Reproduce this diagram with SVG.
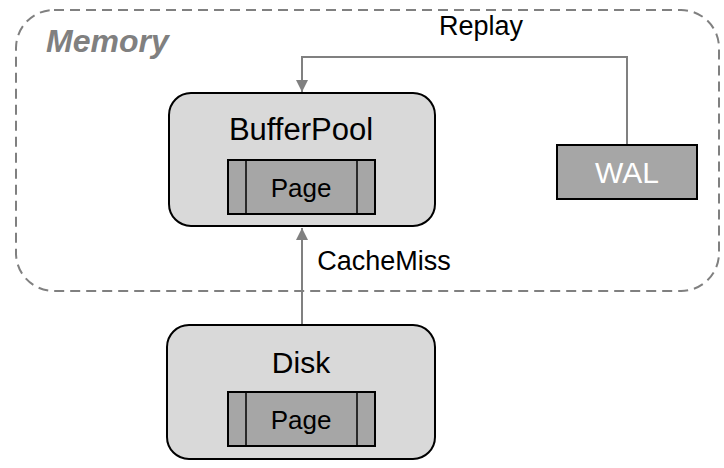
<svg xmlns="http://www.w3.org/2000/svg" width="724" height="468" viewBox="0 0 724 468">
<style>
.lbl{font-family:"Liberation Sans",Arial,sans-serif;fill:#000;text-anchor:middle}
.box{fill:#d9d9d9;stroke:#000;stroke-width:2}
.page{fill:#a6a6a6;stroke:#000;stroke-width:2}
.div{stroke:#000;stroke-width:1.5}
.conn{fill:none;stroke:#808080;stroke-width:2}
</style>
<defs>
<marker id="arr" viewBox="0 0 10 10" refX="10" refY="5" markerWidth="6" markerHeight="6" markerUnits="strokeWidth" orient="auto">
<path d="M0,0 L10,5 L0,10 z" fill="#808080"/>
</marker>
</defs>
<rect width="724" height="468" fill="#fff"/>
<g id="memory">
<rect x="16" y="10" width="703" height="281" rx="38" ry="38" fill="none" stroke="#808080" stroke-width="2" stroke-dasharray="10,6"/>
<text x="46" y="52" font-family="'Liberation Sans',Arial,sans-serif" font-weight="bold" font-style="italic" font-size="32" fill="#808080">Memory</text>
</g>
<g id="connectors">
<polyline class="conn" points="627,145 627,57 302,57 302,92" marker-end="url(#arr)"/>
<line class="conn" x1="302" y1="324" x2="302" y2="228" marker-end="url(#arr)"/>
<text class="lbl" x="481" y="35" font-size="27">Replay</text>
<text class="lbl" x="384" y="270" font-size="27">CacheMiss</text>
</g>
<g id="bufferpool">
<rect class="box" x="169" y="93" width="266" height="133" rx="22" ry="22"/>
<text class="lbl" x="301" y="140" font-size="31">BufferPool</text>
<rect class="page" x="228" y="160" width="147" height="54"/>
<line class="div" x1="246" y1="160" x2="246" y2="214"/>
<line class="div" x1="357" y1="160" x2="357" y2="214"/>
<text class="lbl" x="301" y="197" font-size="26">Page</text>
</g>
<g id="wal">
<rect class="page" x="557" y="145" width="140" height="54"/>
<text class="lbl" x="627" y="183" font-size="30" style="fill:#fff">WAL</text>
</g>
<g id="disk">
<rect class="box" x="167" y="325" width="268" height="134" rx="22" ry="22"/>
<text class="lbl" x="301" y="373" font-size="30">Disk</text>
<rect class="page" x="228" y="392" width="147" height="54"/>
<line class="div" x1="246" y1="392" x2="246" y2="446"/>
<line class="div" x1="357" y1="392" x2="357" y2="446"/>
<text class="lbl" x="301" y="429" font-size="26">Page</text>
</g>
</svg>
